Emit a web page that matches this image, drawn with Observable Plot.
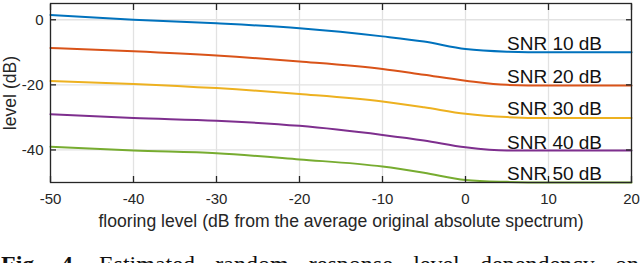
<!DOCTYPE html>
<html>
<head>
<meta charset="utf-8">
<script src="https://cdn.jsdelivr.net/npm/d3@7"></script>
<script src="https://cdn.jsdelivr.net/npm/@observablehq/plot@0.6"></script>
<style>
  html, body { margin: 0; padding: 0; background: #fff; }
  #wrap { position: relative; width: 640px; height: 263px; overflow: hidden; background: #fff; }
  #caption { position: absolute; left: 1px; width: 638px; top: 252px; font-family: "Liberation Serif", "DejaVu Serif", serif; font-size: 24px; line-height: 24px; white-space: nowrap; text-align: justify; text-align-last: justify; color: #111; }
  #caption b { font-weight: bold; }
</style>
</head>
<body>
<div id="wrap">
  <div id="chart"></div>
  <div id="caption"><b>Fig. 4.</b> Estimated random response level dependency on</div>
</div>
<script>
// flooring level (dB)
const xs = [-50, -40, -30, -20, -10, -5, 0, 5, 10, 20];
// estimated random response level (dB) per SNR
const snr10 = [1.5, 0.0, -1.1, -2.6, -5.1, -6.7, -9.0, -9.8, -10.0, -10.0];
const snr20 = [-8.7, -9.7, -11.0, -12.8, -15.1, -16.9, -18.7, -20.0, -20.2, -20.2];
const snr30 = [-18.8, -19.7, -21.0, -22.8, -25.1, -26.9, -28.9, -29.9, -30.2, -30.2];
const snr40 = [-29.0, -30.2, -31.0, -32.6, -35.4, -37.1, -39.2, -40.2, -40.2, -40.2];
const snr50 = [-39.0, -40.2, -41.0, -42.9, -45.1, -47.0, -49.2, -49.8, -50.0, -50.0];
const seriesNames = ["SNR 10 dB", "SNR 20 dB", "SNR 30 dB", "SNR 40 dB", "SNR 50 dB"];
const seriesColors = ["#0072BD", "#D95319", "#EDB120", "#7E2F8E", "#77AC30"];
const xTicks = [-50, -40, -30, -20, -10, 0, 10, 20];
const yTicks = [-40, -20, 0];
const xLabel = "flooring level (dB from the average original absolute spectrum)";
const yLabel = "level (dB)";
const labelAtX = 5;

const allSeries = [snr10, snr20, snr30, snr40, snr50];
const rows = [];
allSeries.forEach((vals, i) => vals.forEach((v, j) => rows.push({x: xs[j], y: v, s: seriesNames[i]})));
const labelRows = allSeries.map((vals, i) => ({x: labelAtX, y: vals[xs.indexOf(labelAtX)], s: seriesNames[i]}));

const ink = "#262626";
const fmt = d => `${d}`;

const chart = Plot.plot({
  width: 640,
  height: 240,
  marginLeft: 50,
  marginRight: 9,
  marginTop: 3,
  marginBottom: 58,
  x: {domain: [-50, 20]},
  y: {domain: [-50, 5]},
  color: {domain: seriesNames, range: seriesColors},
  style: {fontFamily: "'Liberation Sans', Arial, sans-serif", fontSize: "15px", color: ink, background: "white"},
  marks: [
    Plot.gridX(xTicks, {stroke: "#e2e2e2", strokeOpacity: 1, strokeWidth: 1.3}),
    Plot.gridY(yTicks, {stroke: "#e2e2e2", strokeOpacity: 1, strokeWidth: 1.3}),
    Plot.line(rows, {x: "x", y: "y", z: "s", stroke: "s", strokeWidth: 2, curve: "monotone-x"}),
    Plot.text(labelRows, {x: "x", y: "y", text: "s", textAnchor: "start", lineAnchor: "bottom", dy: -2, fontSize: 19, fill: "#111"}),
    Plot.frame({stroke: ink, strokeWidth: 1.3}),
    Plot.axisX({ticks: xTicks, tickSize: -6, tickPadding: 17, tickFormat: fmt, label: null, stroke: ink, strokeWidth: 1.3, fontSize: 15, fill: ink}),
    Plot.axisX({anchor: "top", ticks: xTicks, tickSize: -6, tickFormat: () => "", label: null, stroke: ink, strokeWidth: 1.3}),
    Plot.axisY({ticks: yTicks, tickSize: -6, tickPadding: 13, tickFormat: fmt, label: null, stroke: ink, strokeWidth: 1.3, fontSize: 15, fill: ink}),
    Plot.axisY({anchor: "right", ticks: yTicks, tickSize: -6, tickFormat: () => "", label: null, stroke: ink, strokeWidth: 1.3}),
    Plot.text([xLabel], {frameAnchor: "bottom", textAnchor: "middle", lineAnchor: "middle", dy: 39, fontSize: 17.6, fill: ink}),
    Plot.text([yLabel], {frameAnchor: "left", textAnchor: "middle", lineAnchor: "middle", rotate: -90, dx: -40, fontSize: 17.6, fill: ink})
  ]
});
document.getElementById("chart").appendChild(chart);
</script>
</body>
</html>
